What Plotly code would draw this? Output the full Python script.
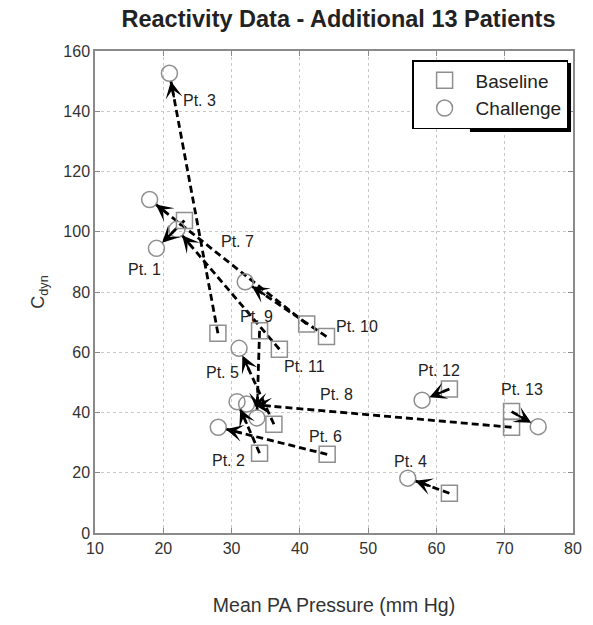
import math
import plotly.graph_objects as go

# ---------------- data ----------------
patients = ["Pt. 1", "Pt. 2", "Pt. 3", "Pt. 4", "Pt. 5", "Pt. 6", "Pt. 7",
            "Pt. 8", "Pt. 9", "Pt. 10", "Pt. 11", "Pt. 12", "Pt. 13"]
base_x = [23.1, 34.1, 28.0, 61.9, 36.2, 44.0, 41.0, 71.0, 34.1, 43.9, 37.0, 61.9, 71.0]
base_y = [103.7, 26.5, 66.3, 13.2, 36.1, 26.1, 69.4, 35.1, 67.1, 65.2, 61.0, 47.8, 40.3]
chal_x = [19.0, 30.8, 20.9, 55.8, 31.1, 28.05, 18.0, 32.2, 33.7, 32.0, 22.0, 57.9, 74.9]
chal_y = [94.5, 43.6, 152.6, 18.2, 61.3, 35.1, 110.7, 42.8, 38.2, 83.4, 100.8, 44.1, 35.3]
label_x = [17.2, 29.6, 25.3, 56.2, 28.7, 43.8, 30.8, 45.3, 33.7, 48.4, 40.7, 60.4, 72.6]
label_y = [87.6, 24.2, 143.7, 23.7, 53.2, 32.0, 96.7, 46.1, 71.8, 68.5, 55.2, 54.1, 47.5]

x_ticks = [10, 20, 30, 40, 50, 60, 70, 80]
y_ticks = [0, 20, 40, 60, 80, 100, 120, 140, 160]

# ---------------- layout geometry ----------------
W, H = 593, 625
ML, MR, MT, MB = 95, 11, 51, 92
PW, PH = W - ML - MR, H - MT - MB
X0, X1 = 10, 80
Y0, Y1 = 0, 160
kx = PW / (X1 - X0)
ky = PH / (Y1 - Y0)

FONT = "Liberation Sans, Arial, Helvetica, sans-serif"
R_PX = 8       # circle radius in px
HEAD_L = 18    # arrow tail offset in px

fig = go.Figure()
annotations = []

for i in range(len(patients)):
    bx, by, cx, cy = base_x[i], base_y[i], chal_x[i], chal_y[i]
    dxp = (bx - cx) * kx
    dyp = (by - cy) * ky
    ln = math.hypot(dxp, dyp)
    ux, uy = dxp / ln, dyp / ln
    ex = cx + ux * R_PX / kx
    ey = cy + uy * R_PX / ky
    fig.add_trace(go.Scatter(
        x=[bx, ex], y=[by, ey], mode="lines",
        line=dict(color="black", width=2.8, dash="7px,4px"),
        showlegend=False, hoverinfo="skip"))
    annotations.append(dict(
        x=ex, y=ey, xref="x", yref="y",
        ax=ux * HEAD_L, ay=-uy * HEAD_L,
        showarrow=True, arrowhead=3, arrowsize=1.3, arrowwidth=2.2,
        arrowcolor="black", standoff=0, text=""))
    annotations.append(dict(
        x=label_x[i], y=label_y[i], xref="x", yref="y",
        text=patients[i], showarrow=False,
        font=dict(family=FONT, size=16, color="#222")))

fig.add_trace(go.Scatter(
    x=base_x, y=base_y, mode="markers", name="Baseline",
    marker=dict(symbol="square-open", size=16, color="#8f8f8f",
                line=dict(width=1.5, color="#8f8f8f"))))
fig.add_trace(go.Scatter(
    x=chal_x, y=chal_y, mode="markers", name="Challenge",
    marker=dict(symbol="circle-open", size=16, color="#8f8f8f",
                line=dict(width=1.5, color="#8f8f8f"))))

axis_common = dict(
    showgrid=True, gridcolor="#c8c8c8", griddash="dot", gridwidth=1,
    showline=True, linecolor="#8a8a8a", linewidth=1.5, mirror="ticks",
    ticks="inside", ticklen=5, tickcolor="#8a8a8a", zeroline=False,
    tickfont=dict(family=FONT, size=16, color="#333"),
)

# legend box (pixels) and its drop shadow
LG_T, LG_R, LG_B = 60, 577, 129


def px_x(p):
    return (p - ML) / PW


def px_y(p):
    return (MT + PH - p) / PH


shadow = dict(type="rect", xref="paper", yref="paper",
              x0=px_x(LG_R - 100), x1=px_x(LG_R + 3),
              y0=px_y(LG_B + 3), y1=px_y(LG_T + 3),
              fillcolor="black", line=dict(width=0), layer="above")

fig.update_layout(
    width=W, height=H,
    margin=dict(l=ML, r=MR, t=MT, b=MB),
    paper_bgcolor="white", plot_bgcolor="white",
    title=dict(text="<b>Reactivity Data - Additional 13 Patients</b>",
               x=(ML + PW / 2) / W, xanchor="center",
               y=1 - 19 / H, yanchor="middle",
               font=dict(family=FONT, size=23.5, color="#222")),
    xaxis=dict(range=[X0, X1], tickvals=x_ticks,
               title=dict(text="Mean PA Pressure (mm Hg)", standoff=42,
                          font=dict(family=FONT, size=19.5, color="#333")),
               **axis_common),
    yaxis=dict(range=[Y0, Y1], tickvals=y_ticks,
               title=dict(text="C<sub>dyn</sub>", standoff=14,
                          font=dict(family=FONT, size=18, color="#333")),
               **axis_common),
    legend=dict(x=px_x(LG_R), xanchor="right", y=px_y(LG_T), yanchor="top",
                bgcolor="white", bordercolor="black", borderwidth=1.5,
                font=dict(family=FONT, size=19, color="#222"),
                itemwidth=52, tracegroupgap=2),
    shapes=[shadow],
    annotations=annotations,
    showlegend=True,
)

fig.write_html("out.html")
